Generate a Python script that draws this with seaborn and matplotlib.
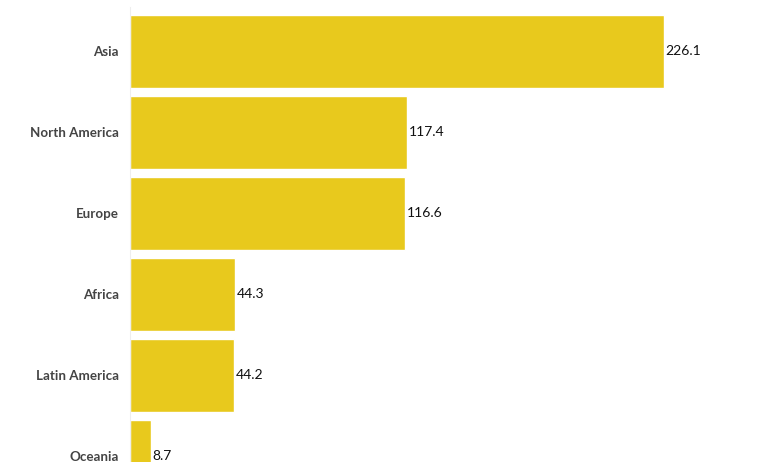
import matplotlib
matplotlib.use("Agg")
import matplotlib.pyplot as plt
import seaborn as sns
import pandas as pd

regions = ["Asia", "North America", "Europe", "Africa", "Latin America", "Oceania"]
values = [226.1, 117.4, 116.6, 44.3, 44.2, 8.7]

df = pd.DataFrame({"region": regions, "value": values})

sns.set_style("white")
plt.rcParams['font.family'] = ['Lato', 'DejaVu Sans']

fig = plt.figure(figsize=(7.72, 4.62), dpi=100)
ax = fig.add_axes([130 / 772, 0, 642 / 772, 455 / 462])

sns.barplot(data=df, x="value", y="region", color="#E8C91D", width=0.9,
            saturation=1, ax=ax)

for i, v in enumerate(values):
    ax.text(v + 0.8, i, f"{v}", va="center", ha="left", fontsize=10, color="#111111")

ax.set_xlim(0, 642 / 2.36)
ax.set_ylim(5.068, -0.545)
ax.set_xlabel("")
ax.set_ylabel("")
ax.set_xticks([])
ax.tick_params(axis="y", length=0, pad=8)
for lab in ax.get_yticklabels():
    lab.set_fontsize(9.6)
    lab.set_color("#444444")
    lab.set_fontweight("bold")

for s in ["top", "right", "bottom"]:
    ax.spines[s].set_visible(False)
ax.spines["left"].set_color("#eeeeee")
ax.spines["left"].set_linewidth(0.8)

fig.savefig("out.png", dpi=100)
